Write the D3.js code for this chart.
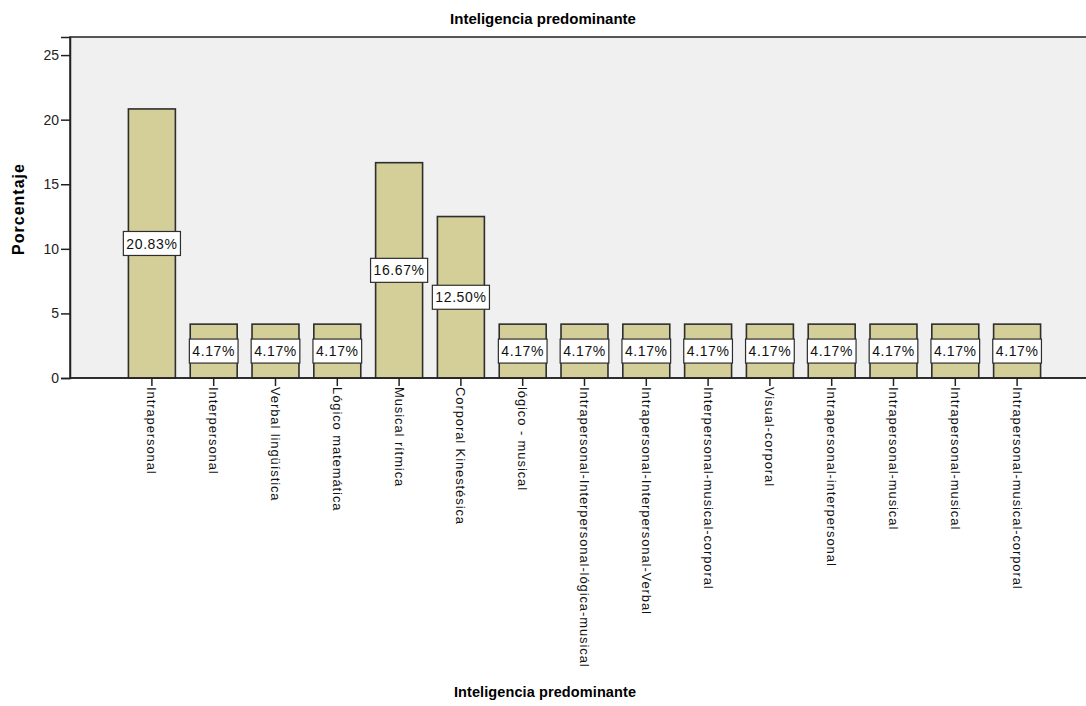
<html>
<head>
    <meta charset="utf-8">
    <title>Inteligencia predominante</title>
    <style>
        body { margin: 0; background: #fff; }
        text { font-family: Arial, "Liberation Sans", sans-serif; }
        .bars rect { fill: #d4cf99; stroke: #2e2e2e; stroke-width: 1.6px; }
        .lbl rect { fill: #fff; stroke: #2e2e2e; stroke-width: 1.2px; }
    </style>
</head>
<body>
    <svg width="1086" height="706"></svg>
    <script src="https://d3js.org/d3.v7.min.js"></script>
    <script>
        var categorias = ["Intrapersonal", "Interpersonal", "Verbal lingüística", "Lógico matemática",
            "Musical rítmica", "Corporal Kinestésica", "lógico - musical",
            "Intrapersonal-Interpersonal-lógica-musical", "Intrapersonal-Interpersonal-Verbal",
            "Interpersonal-musical-corporal", "Visual-corporal", "Intrapersonal-interpersonal",
            "Intrapersonal-musical", "Intrapersonal-musical", "Intrapersonal-musical-corporal"];
        var porcentajes = [20.83, 4.17, 4.17, 4.17, 16.67, 12.50, 4.17, 4.17, 4.17, 4.17, 4.17, 4.17, 4.17, 4.17, 4.17];
        var yTicks = [0, 5, 10, 15, 20, 25];

        var svg = d3.select("svg");
        var plotL = 70, plotT = 37, plotR = 1090, plotB = 378;

        // keys so the two "Intrapersonal-musical" bars stay separate
        var data = categorias.map(function (c, i) { return { key: i, cat: c, val: porcentajes[i] }; });

        var x = d3.scaleBand().domain(data.map(function (d) { return d.key; }))
            .range([121, 1048]).paddingInner(0.24).paddingOuter(0.12);
        var y = d3.scaleLinear().domain([0, 26.4]).range([plotB, plotT]);

        svg.append("rect")
            .attr("x", plotL).attr("y", plotT)
            .attr("width", plotR - plotL).attr("height", plotB - plotT)
            .attr("fill", "#f0f0f0").attr("stroke", "#222").attr("stroke-width", 1.5);

        svg.append("text")
            .attr("x", 543).attr("y", 24)
            .attr("text-anchor", "middle")
            .style("font-size", "15px").style("font-weight", "bold")
            .text("Inteligencia predominante");

        svg.append("g").attr("class", "bars")
            .selectAll("rect").data(data).enter().append("rect")
            .attr("x", function (d) { return x(d.key); })
            .attr("width", x.bandwidth())
            .attr("y", function (d) { return y(d.val); })
            .attr("height", function (d) { return y(0) - y(d.val); });

        // y axis
        var yAxis = svg.append("g")
            .attr("transform", "translate(" + plotL + ",0)")
            .call(d3.axisLeft(y).tickValues(yTicks).tickSize(9).tickPadding(2));
        yAxis.select(".domain").attr("stroke", "#222").attr("stroke-width", 1.5);
        yAxis.selectAll(".tick line").attr("stroke", "#222").attr("stroke-width", 1.5);
        yAxis.selectAll("text").style("font-size", "14px").attr("fill", "#222");

        // x axis
        var xAxis = svg.append("g")
            .attr("transform", "translate(0," + plotB + ")")
            .call(d3.axisBottom(x).tickSize(8).tickPadding(0)
                .tickFormat(function (k) { return categorias[k]; }));
        xAxis.select(".domain").remove();
        xAxis.selectAll(".tick line").attr("stroke", "#222").attr("stroke-width", 1.5);
        xAxis.selectAll("text")
            .attr("transform", "rotate(90)")
            .attr("x", 9).attr("y", 0).attr("dy", "0.35em")
            .attr("text-anchor", "start")
            .attr("fill", "#111")
            .style("font-size", "13px")
            .style("letter-spacing", "0.9px");
        svg.append("line")
            .attr("x1", plotL).attr("x2", plotR).attr("y1", plotB).attr("y2", plotB)
            .attr("stroke", "#222").attr("stroke-width", 1.5);

        // value labels
        var lbl = svg.append("g").attr("class", "lbl")
            .selectAll("g").data(data).enter().append("g")
            .attr("transform", function (d) {
                return "translate(" + (x(d.key) + x.bandwidth() / 2) + "," + y(d.val / 2) + ")";
            });
        lbl.append("text")
            .attr("text-anchor", "middle").attr("dy", "0.36em")
            .style("font-size", "14px").style("letter-spacing", "0.6px")
            .attr("fill", "#111")
            .text(function (d) { return d.val.toFixed(2) + "%"; });
        lbl.each(function () {
            var g = d3.select(this), b = g.select("text").node().getBBox();
            g.insert("rect", "text")
                .attr("x", b.x - 3).attr("y", -12)
                .attr("width", b.width + 6).attr("height", 24);
        });

        svg.append("text")
            .attr("transform", "translate(24,209) rotate(-90)")
            .attr("text-anchor", "middle")
            .style("font-size", "16px").style("font-weight", "bold").style("letter-spacing", "1px")
            .text("Porcentaje");

        svg.append("text")
            .attr("x", 545).attr("y", 697)
            .attr("text-anchor", "middle")
            .style("font-size", "14.5px").style("font-weight", "bold").style("letter-spacing", "0.1px")
            .text("Inteligencia predominante");
    </script>
</body>
</html>
